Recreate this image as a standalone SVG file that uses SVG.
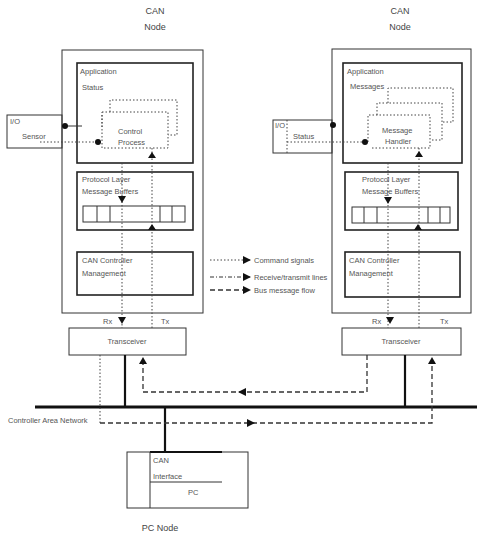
<svg xmlns="http://www.w3.org/2000/svg" width="477" height="538" viewBox="0 0 477 538">
<defs>
<style>
.box{fill:none;stroke:#333;stroke-width:1}
.app{fill:none;stroke:#222;stroke-width:1.6}
.dot{fill:none;stroke:#444;stroke-width:1;stroke-dasharray:1.5,2}
.dash{fill:none;stroke:#333;stroke-width:1.3;stroke-dasharray:5,3}
.dd{fill:none;stroke:#333;stroke-width:1;stroke-dasharray:4,2,1,2}
.bus{fill:none;stroke:#111;stroke-width:3}
.stub{fill:none;stroke:#111;stroke-width:2.2}
.t{font-family:"Liberation Sans",Arial,sans-serif;font-size:7.5px;fill:#555}
.h{font-family:"Liberation Sans",Arial,sans-serif;font-size:9px;fill:#444;text-anchor:middle}
.ah{fill:#111}
</style>
<marker id="arr" markerWidth="8" markerHeight="8" refX="7" refY="4" orient="auto" markerUnits="userSpaceOnUse">
<path d="M0,0 L8,4 L0,8 z" fill="#111"/>
</marker>
</defs>
<rect width="477" height="538" fill="#fff"/>

<!-- Left CAN node -->
<g id="left-node">
<text class="h" x="155" y="14">CAN</text>
<text class="h" x="155" y="30">Node</text>
<rect class="box" x="62" y="50" width="141" height="263"/>
</g>
<g id="left-app">
<rect class="app" x="77" y="63" width="116" height="100"/>
<text class="t" x="80" y="74">Application</text>
<text class="t" x="82" y="90">Status</text>
<polyline class="dot" points="110,112 110,100 177,100 177,135 168,135"/>
<rect class="dot" x="102" y="112" width="66" height="36"/>
<text class="t" x="118" y="134">Control</text>
<text class="t" x="118" y="145">Process</text>
</g>
<g id="left-io">
<rect class="box" x="7" y="115" width="55" height="33"/>
<text class="t" x="10" y="124">I/O</text>
<text class="t" x="22" y="139">Sensor</text>
</g>
<g id="left-msg">
<rect class="app" x="77" y="172" width="116" height="58"/>
<text class="t" x="82" y="182">Protocol Layer</text>
<text class="t" x="82" y="194">Message Buffers</text>
<rect class="box" x="83" y="206" width="102" height="16"/>
<line class="box" x1="97" y1="206" x2="97" y2="222"/>
<line class="box" x1="110" y1="206" x2="110" y2="222"/>
<line class="box" x1="160" y1="206" x2="160" y2="222"/>
<line class="box" x1="172" y1="206" x2="172" y2="222"/>
</g>
<g id="left-ctrl">
<rect class="app" x="77" y="252" width="116" height="43"/>
<text class="t" x="82" y="263">CAN Controller</text>
<text class="t" x="82" y="276">Management</text>
</g>
<g id="left-trx">
<rect class="box" x="69" y="328" width="117" height="27"/>
<text class="t" x="127" y="344" text-anchor="middle">Transceiver</text>
<text class="t" x="103" y="324">Rx</text>
<text class="t" x="161" y="324">Tx</text>
</g>

<!-- Right CAN node -->
<g id="right-node">
<text class="h" x="400" y="14">CAN</text>
<text class="h" x="400" y="30">Node</text>
<rect class="box" x="332" y="49" width="139" height="264"/>
</g>
<g id="right-app">
<rect class="app" x="343" y="63" width="119" height="100"/>
<text class="t" x="347" y="74">Application</text>
<text class="t" x="350" y="89">Messages</text>
<polyline class="dot" points="388,103 388,88 453,88 453,122 442,122"/>
<polyline class="dot" points="377,115 377,103 442,103 442,140 430,140"/>
<polyline class="dot" points="368,142 368,115 430,115 430,148 372,148"/>
<text class="t" x="382" y="133">Message</text>
<text class="t" x="385" y="144">Handler</text>
</g>
<g id="right-io">
<rect class="box" x="273" y="120" width="59" height="33"/>
<line class="dot" x1="287" y1="120" x2="287" y2="153"/>
<text class="t" x="275" y="128">I/O</text>
<text class="t" x="293" y="139">Status</text>
</g>
<g id="right-msg">
<rect class="app" x="345" y="172" width="113" height="58"/>
<text class="t" x="362" y="182">Protocol Layer</text>
<text class="t" x="362" y="194">Message Buffers</text>
<rect class="box" x="352" y="207" width="98" height="16"/>
<line class="box" x1="364" y1="207" x2="364" y2="223"/>
<line class="box" x1="377" y1="207" x2="377" y2="223"/>
<line class="box" x1="428" y1="207" x2="428" y2="223"/>
<line class="box" x1="440" y1="207" x2="440" y2="223"/>
</g>
<g id="right-ctrl">
<rect class="app" x="345" y="252" width="115" height="45"/>
<text class="t" x="349" y="263">CAN Controller</text>
<text class="t" x="349" y="276">Management</text>
</g>
<g id="right-trx">
<rect class="box" x="342" y="328" width="119" height="27"/>
<text class="t" x="401" y="344" text-anchor="middle">Transceiver</text>
<text class="t" x="372" y="324">Rx</text>
<text class="t" x="440" y="324">Tx</text>
</g>

<!-- Legend -->
<g id="legend">
<line class="dot" x1="210" y1="260" x2="250" y2="260" marker-end="url(#arr)"/>
<text class="t" x="254" y="263">Command signals</text>
<line class="dd" x1="210" y1="277" x2="250" y2="277" marker-end="url(#arr)"/>
<text class="t" x="254" y="280">Receive/transmit lines</text>
<line class="dash" x1="210" y1="290" x2="250" y2="290" marker-end="url(#arr)"/>
<text class="t" x="254" y="293">Bus message flow</text>
</g>

<!-- Bus -->
<g id="bus">
<line class="bus" x1="35" y1="407" x2="477" y2="407"/>
<text class="t" x="8" y="423">Controller Area Network</text>
</g>

<!-- PC node -->
<g id="pc-node">
<rect class="box" x="127" y="452" width="121" height="56"/>
<line class="stub" x1="150" y1="452" x2="222" y2="452"/>
<line class="box" x1="150" y1="452" x2="150" y2="508"/>
<line class="box" x1="150" y1="482" x2="222" y2="482"/>
<text class="t" x="153" y="463">CAN</text>
<text class="t" x="153" y="479">Interface</text>
<text class="t" x="188" y="495">PC</text>
<text class="h" x="160" y="531">PC Node</text>
</g>

<!-- Connectors -->
<g id="connectors">
<!-- left node I/O -->
<line class="box" x1="62" y1="126" x2="82" y2="126"/>
<circle class="ah" cx="65" cy="126" r="3"/>
<line class="dot" x1="40" y1="142" x2="102" y2="142"/>
<circle class="ah" cx="98" cy="142" r="3"/>
<line class="dot" x1="102" y1="115" x2="102" y2="128"/>
<!-- left verticals -->
<line class="dot" x1="122" y1="163" x2="122" y2="328"/>
<line class="dot" x1="152" y1="148" x2="152" y2="328"/>
<polygon class="ah" points="148,158 156,158 152,152"/>
<polygon class="ah" points="118,196 126,196 122,203"/>
<polygon class="ah" points="148,230 156,230 152,224"/>
<polygon class="ah" points="118,317 126,317 122,324"/>
<!-- right node I/O -->
<circle class="ah" cx="333" cy="125" r="3"/>
<line class="dot" x1="287" y1="142" x2="368" y2="142"/>
<circle class="ah" cx="365" cy="142" r="3"/>
<!-- right verticals -->
<line class="dot" x1="388" y1="163" x2="388" y2="328"/>
<line class="dot" x1="419" y1="148" x2="419" y2="328"/>
<polygon class="ah" points="415,157 423,157 419,151"/>
<polygon class="ah" points="384,197 392,197 388,204"/>
<polygon class="ah" points="414,230 422,230 418,224"/>
<polygon class="ah" points="386,317 394,317 390,324"/>
<!-- transceiver stubs -->
<line class="stub" x1="125" y1="355" x2="125" y2="407"/>
<line class="stub" x1="405" y1="355" x2="405" y2="407"/>
<line class="stub" x1="165" y1="407" x2="165" y2="452"/>
<!-- message flows -->
<polyline class="dash" points="367,355 367,392 143,392 143,362"/>
<polygon class="ah" points="139,364 147,364 143,357"/>
<polygon class="ah" points="238,392 246,388 246,396"/>
<polyline class="dot" points="100,355 100,423"/>
<polyline class="dash" points="100,423 432,423 432,362"/>
<polygon class="ah" points="428,364 436,364 432,357"/>
<polygon class="ah" points="255,423 247,419 247,427"/>
</g>
</svg>
